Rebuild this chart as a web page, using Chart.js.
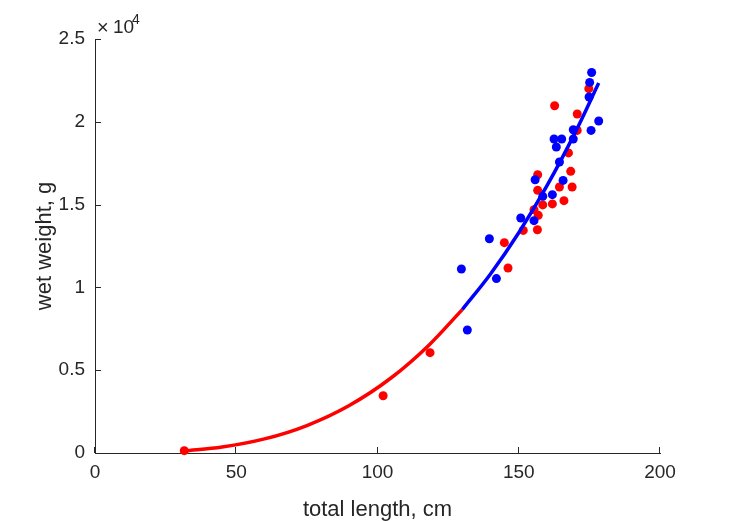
<!DOCTYPE html>
<html>
<head>
<meta charset="utf-8">
<title>wet weight vs total length</title>
<script src="https://cdn.jsdelivr.net/npm/chart.js@4.4.1/dist/chart.umd.min.js"></script>
<style>
  html, body { margin: 0; padding: 0; background: #fff; }
  canvas { display: block; }
</style>
</head>
<body>
<canvas id="fishChart" width="729" height="521"></canvas>
<script>
// measured fish, red group (length cm, weight g)
var redLength = [31.6, 102.0, 118.6, 144.9, 146.2, 151.6, 155.4, 156.6, 156.7, 156.7, 156.9, 158.5,
  161.9, 162.7, 164.4, 166.0, 167.6, 168.4, 168.9, 170.7, 170.7, 174.8];
var redWeight = [140, 3460, 6060, 12700, 11170, 13440, 14690, 13480, 16800, 15860, 14350, 14980,
  15040, 20970, 16060, 15240, 18120, 17010, 16060, 20470, 19480, 22000];

// measured fish, blue group
var blueLength = [129.7, 131.8, 139.6, 142.1, 150.7, 155.4, 155.8, 158.5, 161.9, 162.5, 163.3, 164.4,
  165.2, 165.7, 169.3, 169.3, 174.9, 175.1, 175.6, 175.8, 178.3];
var blueWeight = [11110, 7430, 12940, 10530, 14190, 14030, 16500, 15500, 15600, 18960, 18480, 17570,
  18960, 16460, 19520, 18960, 21500, 22380, 19480, 22980, 20050];

// fitted curve, split where the colour changes
var fitRedLength = [31.6, 45, 60, 75, 90, 105, 118, 130];
var fitRedWeight = [125, 360, 850, 1660, 2870, 4560, 6480, 8660];
var fitBlueLength = [130, 140, 150, 160, 170, 178.3];
var fitBlueWeight = [8660, 10810, 13300, 16140, 19360, 22340];

// axis ticks
var xTicks = [0, 50, 100, 150, 200];
var yTicks = [0, 5000, 10000, 15000, 20000, 25000];

var axisColor = '#262626';
var fontName = '"Liberation Sans", Arial, sans-serif';

function toPoints(xs, ys) {
  return xs.map(function(x, i) { return { x: x, y: ys[i] }; });
}

// matlab style ticks pointing into the plot + the x10^4 exponent
var innerTicks = {
  id: 'innerTicks',
  afterDraw: function(chart) {
    var ctx = chart.ctx;
    var area = chart.chartArea;
    var xs = chart.scales.x;
    var ys = chart.scales.y;
    ctx.save();
    ctx.strokeStyle = axisColor;
    ctx.lineWidth = 1;
    ctx.beginPath();
    xTicks.forEach(function(v) {
      var px = Math.round(xs.getPixelForValue(v)) - 0.5;
      ctx.moveTo(px, area.bottom);
      ctx.lineTo(px, area.bottom - 6);
    });
    yTicks.forEach(function(v) {
      var py = Math.round(ys.getPixelForValue(v)) + 0.5;
      ctx.moveTo(area.left, py);
      ctx.lineTo(area.left + 6, py);
    });
    ctx.stroke();

    ctx.fillStyle = axisColor;
    ctx.textBaseline = 'alphabetic';
    ctx.textAlign = 'left';
    ctx.font = '20px ' + fontName;
    ctx.fillText('\u00d7', area.left + 2, area.top - 5);
    ctx.font = '19px ' + fontName;
    ctx.fillText('10', area.left + 18, area.top - 6);
    ctx.font = '14px ' + fontName;
    ctx.fillText('4', area.left + 37, area.top - 15);
    ctx.restore();
  }
};

Chart.defaults.font.family = fontName;
Chart.defaults.color = axisColor;

new Chart(document.getElementById('fishChart'), {
  type: 'scatter',
  data: {
    datasets: [
      {
        label: 'fit red',
        type: 'line',
        data: toPoints(fitRedLength, fitRedWeight),
        borderColor: '#ff0000',
        borderWidth: 3.5,
        pointRadius: 0,
        cubicInterpolationMode: 'monotone',
        clip: false
      },
      {
        label: 'fit blue',
        type: 'line',
        data: toPoints(fitBlueLength, fitBlueWeight),
        borderColor: '#0000ff',
        borderWidth: 3.5,
        pointRadius: 0,
        cubicInterpolationMode: 'monotone',
        clip: false
      },
      {
        label: 'blue',
        data: toPoints(blueLength, blueWeight),
        backgroundColor: '#0000ff',
        borderWidth: 0,
        pointRadius: 4.5,
        clip: false
      },
      {
        label: 'red',
        data: toPoints(redLength, redWeight),
        backgroundColor: '#ff0000',
        borderWidth: 0,
        pointRadius: 4.5,
        clip: false
      }
    ]
  },
  options: {
    responsive: false,
    animation: false,
    devicePixelRatio: 1,
    layout: { padding: { left: 0, top: 39, right: 69, bottom: 0 } },
    plugins: {
      legend: { display: false },
      tooltip: { enabled: false }
    },
    scales: {
      x: {
        type: 'linear',
        min: 0,
        max: 200,
        afterFit: function(scale) { scale.height = 68; },
        afterBuildTicks: function(scale) {
          scale.ticks = xTicks.map(function(v) { return { value: v }; });
        },
        ticks: {
          padding: 8,
          font: { size: 19 },
          color: axisColor,
          maxRotation: 0
        },
        grid: { drawOnChartArea: false, drawTicks: false },
        border: { display: true, color: axisColor, width: 1 },
        title: {
          display: true,
          text: 'total length, cm',
          font: { size: 22, lineHeight: 1 },
          color: axisColor,
          padding: { top: 0, bottom: 0 }
        }
      },
      y: {
        type: 'linear',
        min: 0,
        max: 25000,
        afterFit: function(scale) { scale.width = 95; },
        afterBuildTicks: function(scale) {
          scale.ticks = yTicks.map(function(v) { return { value: v }; });
        },
        ticks: {
          padding: 10,
          font: { size: 19 },
          color: axisColor,
          callback: function(v) { return String(v / 10000); }
        },
        grid: { drawOnChartArea: false, drawTicks: false },
        border: { display: true, color: axisColor, width: 1 },
        title: {
          display: true,
          text: 'wet weight, g',
          font: { size: 22, lineHeight: 1 },
          color: axisColor,
          padding: { top: 34, bottom: 0 }
        }
      }
    }
  },
  plugins: [innerTicks]
});
</script>
</body>
</html>
